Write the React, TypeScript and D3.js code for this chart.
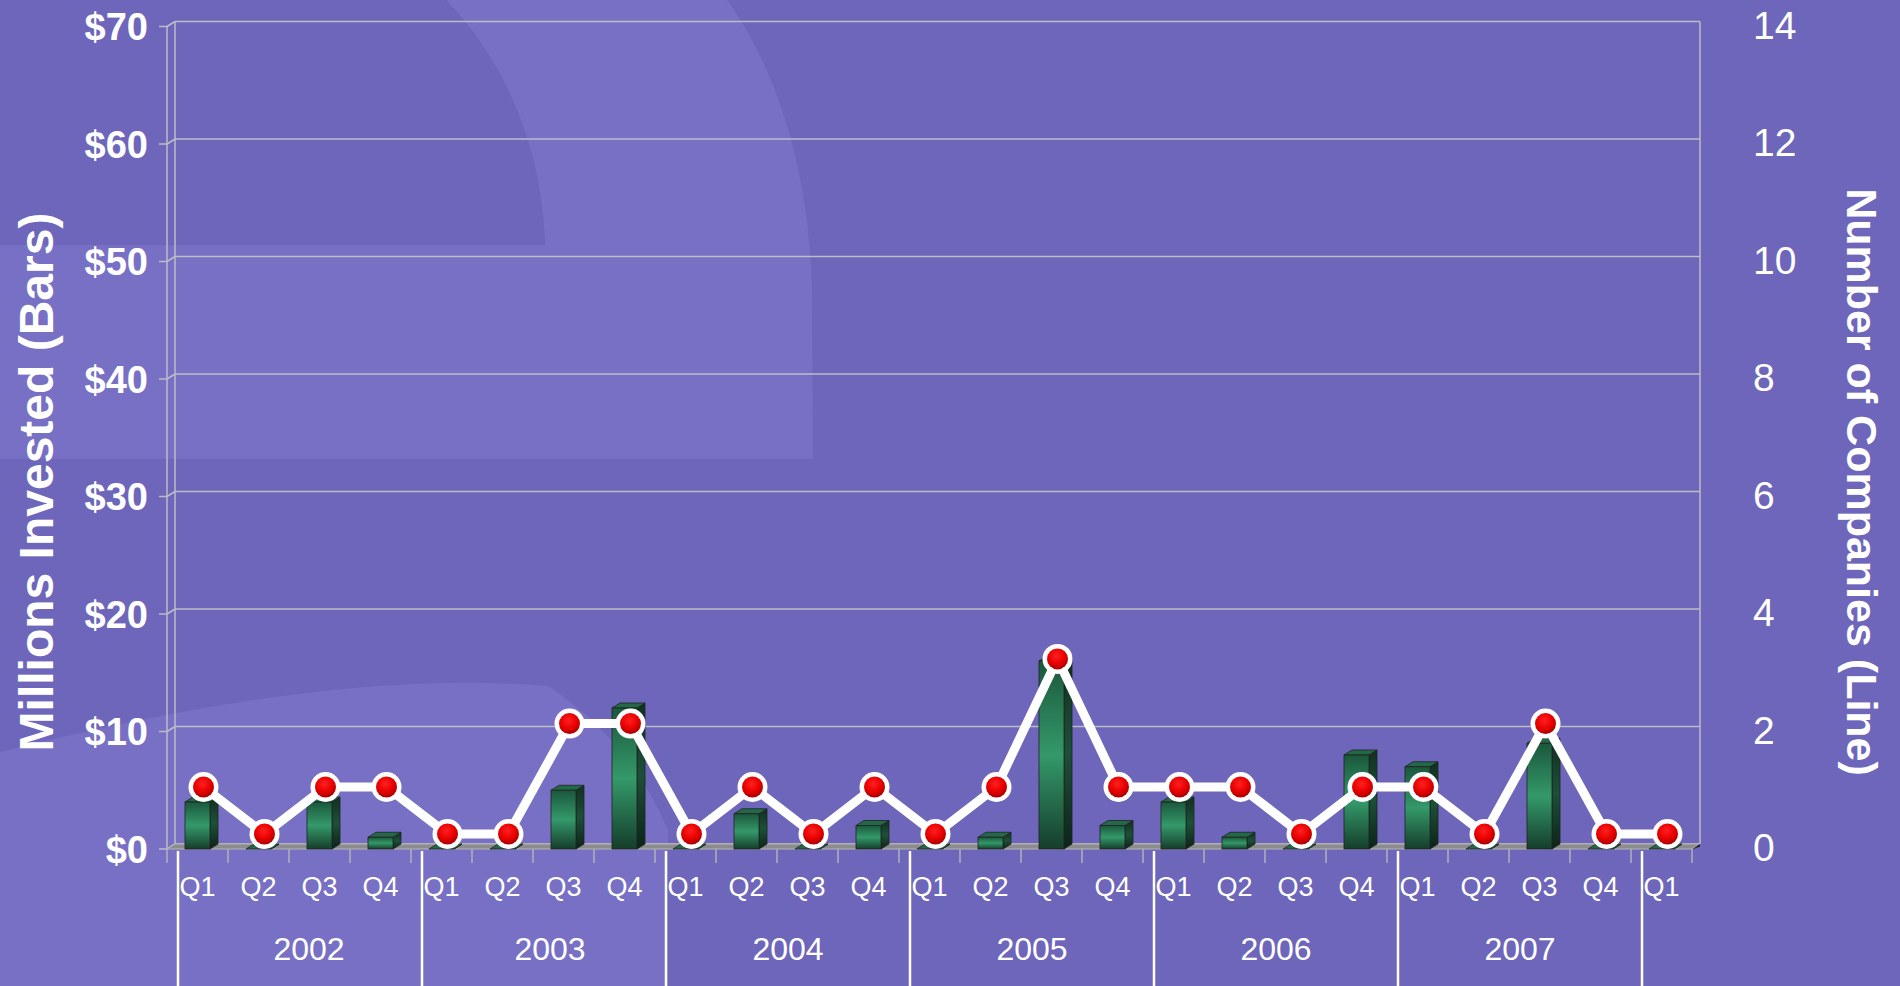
import { useRef, useEffect } from "react";
import * as d3 from "d3";

// --- data ---
const quarterLabels = [
  "Q1", "Q2", "Q3", "Q4",
  "Q1", "Q2", "Q3", "Q4",
  "Q1", "Q2", "Q3", "Q4",
  "Q1", "Q2", "Q3", "Q4",
  "Q1", "Q2", "Q3", "Q4",
  "Q1", "Q2", "Q3", "Q4",
  "Q1",
];
const yearLabels = ["2002", "2003", "2004", "2005", "2006", "2007"];
// millions invested (bars, left axis)
const millions = [4, 0, 4, 1, 0, 0, 5, 12, 0, 3, 0, 2, 0, 1, 16, 2, 4, 1, 0, 8, 7, 0, 9, 0, 0];
// number of companies (line, right axis) as plotted
const companies = [
  0.97, 0.17, 0.97, 0.97,
  0.17, 0.17, 2.05, 2.05,
  0.17, 0.97, 0.17, 0.97,
  0.17, 0.97, 3.15, 0.97,
  0.97, 0.97, 0.17, 0.97,
  0.97, 0.17, 2.05, 0.17,
  0.17,
];
const leftTicks = [0, 10, 20, 30, 40, 50, 60, 70];
const rightTicks = [0, 2, 4, 6, 8, 10, 12, 14];

const W = 1900;
const H = 986;
const X0 = 167;
const X1 = 1692;
const Y0 = 849;
const YTOP = 26.5;
const DX = 8; // 3d depth
const DY = -5;
const FONT = "'Liberation Sans', Arial, Helvetica, sans-serif";
const BG = "#6D66BA";
const BG_LIGHT = "#7770C4";
const GRID = "#BDBDC6";

export default function App() {
  const svgRef = useRef<SVGSVGElement>(null);

  useEffect(() => {
    if (!svgRef.current) return;
    const svg = d3.select(svgRef.current);
    svg.selectAll("*").remove();

    const idx = quarterLabels.map((_, i) => i);
    const x = d3.scaleBand<number>().domain(idx).range([X0, X1]).padding(0);
    const step = x.step();
    const barW = step * 0.41;
    const cx = (i: number) => (x(i) ?? 0) + step / 2;

    const yMoney = d3.scaleLinear().domain([0, 70]).range([Y0, YTOP]);
    const yComp = d3.scaleLinear().domain([0, 14]).range([Y0 + DY, YTOP + DY]);

    const defs = svg.append("defs");
    const front = defs.append("linearGradient").attr("id", "barFront").attr("x1", 0).attr("y1", 0).attr("x2", 0).attr("y2", 1);
    front.append("stop").attr("offset", "0%").attr("stop-color", "#1B573C");
    front.append("stop").attr("offset", "50%").attr("stop-color", "#34996A");
    front.append("stop").attr("offset", "100%").attr("stop-color", "#153E2B");
    const side = defs.append("linearGradient").attr("id", "barSide").attr("x1", 0).attr("y1", 0).attr("x2", 0).attr("y2", 1);
    side.append("stop").attr("offset", "0%").attr("stop-color", "#10301F");
    side.append("stop").attr("offset", "50%").attr("stop-color", "#1D5038");
    side.append("stop").attr("offset", "100%").attr("stop-color", "#0C2418");
    const dot = defs.append("radialGradient").attr("id", "dotFill").attr("cx", "0.45").attr("cy", "0.35").attr("r", "0.65");
    dot.append("stop").attr("offset", "0%").attr("stop-color", "#FF2020");
    dot.append("stop").attr("offset", "60%").attr("stop-color", "#E80000");
    dot.append("stop").attr("offset", "100%").attr("stop-color", "#A80000");

    // background + watermark shapes
    svg.append("rect").attr("width", W).attr("height", H).attr("fill", BG);
    svg
      .append("path")
      .attr("d", "M446,0 L727,0 C785,80 810,190 812,290 L813,459 L0,459 L0,245 L545,245 C543,150 505,60 446,0 Z")
      .attr("fill", BG_LIGHT);
    svg
      .append("path")
      .attr("d", "M0,752 Q330,668 548,686 Q630,740 668,830 L668,986 L0,986 Z")
      .attr("fill", BG_LIGHT);

    // gridlines on back plane + left connectors
    leftTicks.forEach((t) => {
      const yf = yMoney(t);
      svg.append("line").attr("x1", X0 + DX).attr("x2", X1 + DX).attr("y1", yf + DY).attr("y2", yf + DY)
        .attr("stroke", GRID).attr("stroke-width", 1.5);
      svg.append("line").attr("x1", X0).attr("x2", X0 + DX).attr("y1", yf).attr("y2", yf + DY)
        .attr("stroke", GRID).attr("stroke-width", 1.5);
      svg.append("line").attr("x1", X0 - 8).attr("x2", X0).attr("y1", yf).attr("y2", yf)
        .attr("stroke", GRID).attr("stroke-width", 1.5);
      svg.append("text").attr("x", 148).attr("y", yf + 13.5).attr("text-anchor", "end")
        .attr("font-family", FONT).attr("font-size", 38).attr("font-weight", 700).attr("fill", "#fff")
        .text(`$${t}`);
    });
    // walls
    svg.append("line").attr("x1", X0).attr("x2", X0).attr("y1", YTOP).attr("y2", Y0).attr("stroke", GRID).attr("stroke-width", 1.5);
    svg.append("line").attr("x1", X0 + DX).attr("x2", X0 + DX).attr("y1", YTOP + DY).attr("y2", Y0 + DY).attr("stroke", GRID).attr("stroke-width", 1.5);
    svg.append("line").attr("x1", X1 + DX).attr("x2", X1 + DX).attr("y1", YTOP + DY).attr("y2", Y0 + DY).attr("stroke", GRID).attr("stroke-width", 1.5);

    // right axis labels
    rightTicks.forEach((t) => {
      svg.append("text").attr("x", 1753).attr("y", yComp(t) + 17)
        .attr("font-family", FONT).attr("font-size", 39).attr("fill", "#fff").text(String(t));
    });

    // floor
    svg.append("polygon")
      .attr("points", `${X0},${Y0} ${X1},${Y0} ${X1 + DX},${Y0 + DY} ${X0 + DX},${Y0 + DY}`)
      .attr("fill", "#8C8C8C").attr("stroke", "#B4B4B4").attr("stroke-width", 1);
    svg.append("polygon")
      .attr("points", `${X1},${Y0 + 0.5} ${X1 + DX},${Y0 + DY} ${X1 + DX},${Y0 + DY + 2.5}`)
      .attr("fill", "#1a1a1a");

    // category ticks
    d3.range(quarterLabels.length + 1).forEach((k) => {
      const tx = X0 + k * step;
      svg.append("line").attr("x1", tx).attr("x2", tx).attr("y1", Y0).attr("y2", Y0 + 14)
        .attr("stroke", "#B0B0B8").attr("stroke-width", 1.5);
    });

    // bars
    const bars = svg.append("g");
    millions.forEach((v, i) => {
      const bx0 = cx(i) - barW / 2;
      const bx1 = cx(i) + barW / 2;
      const yt = yMoney(v);
      const g = bars.append("g");
      g.append("polygon")
        .attr("points", `${bx1},${yt} ${bx1 + DX},${yt + DY} ${bx1 + DX},${Y0 + DY} ${bx1},${Y0}`)
        .attr("fill", "url(#barSide)").attr("stroke", "#222").attr("stroke-width", 0.8);
      g.append("polygon")
        .attr("points", `${bx0},${yt} ${bx1},${yt} ${bx1 + DX},${yt + DY} ${bx0 + DX},${yt + DY}`)
        .attr("fill", "#226A47").attr("stroke", "#222").attr("stroke-width", 0.8);
      if (v > 0) {
        g.append("rect").attr("x", bx0).attr("y", yt).attr("width", barW).attr("height", Y0 - yt)
          .attr("fill", "url(#barFront)").attr("stroke", "#222").attr("stroke-width", 0.8);
      }
    });

    // line + markers
    const lx = (i: number) => cx(i) + DX * 0.75;
    const line = d3.line<number>().x((_, i) => lx(i)).y((d) => yComp(d));
    svg.append("path").attr("d", line(companies) ?? "")
      .attr("fill", "none").attr("stroke", "#fff").attr("stroke-width", 9)
      .attr("stroke-linejoin", "round").attr("stroke-linecap", "round");
    companies.forEach((v, i) => {
      svg.append("circle").attr("cx", lx(i)).attr("cy", yComp(v)).attr("r", 15).attr("fill", "#fff");
      svg.append("circle").attr("cx", lx(i)).attr("cy", yComp(v)).attr("r", 10.5).attr("fill", "url(#dotFill)");
    });

    // quarter labels
    quarterLabels.forEach((q, i) => {
      svg.append("text").attr("x", cx(i)).attr("y", 896).attr("text-anchor", "middle")
        .attr("font-family", FONT).attr("font-size", 27).attr("fill", "#fff").text(q);
    });

    // year separators + labels
    const yearStep = step * 4;
    d3.range(yearLabels.length + 1).forEach((k) => {
      const sx = X0 + 11 + k * yearStep;
      svg.append("line").attr("x1", sx).attr("x2", sx).attr("y1", 851).attr("y2", H)
        .attr("stroke", "#fff").attr("stroke-width", 2.5);
    });
    yearLabels.forEach((yr, k) => {
      const shift = k === 0 ? 9 : k === 1 ? 6 : 0;
      svg.append("text").attr("x", X0 + 11 + (k + 0.5) * yearStep + shift).attr("y", 960).attr("text-anchor", "middle")
        .attr("font-family", FONT).attr("font-size", 32).attr("fill", "#fff").text(yr);
    });

    // axis titles
    svg.append("text").attr("transform", "translate(36,482) rotate(-90)").attr("text-anchor", "middle")
      .attr("dominant-baseline", "central").attr("font-family", FONT).attr("font-size", 48)
      .attr("font-weight", 700).attr("fill", "#fff").text("Millions Invested (Bars)");
    svg.append("text").attr("transform", "translate(1862,482) rotate(90)").attr("text-anchor", "middle")
      .attr("dominant-baseline", "central").attr("font-family", FONT).attr("font-size", 43)
      .attr("font-weight", 700).attr("fill", "#fff").text("Number of Companies (Line)");
  }, []);

  return (
    <div style={{ position: "absolute", left: 0, top: 0, width: W, height: H, overflow: "hidden" }}>
      <svg ref={svgRef} width={W} height={H} style={{ display: "block" }} />
    </div>
  );
}
